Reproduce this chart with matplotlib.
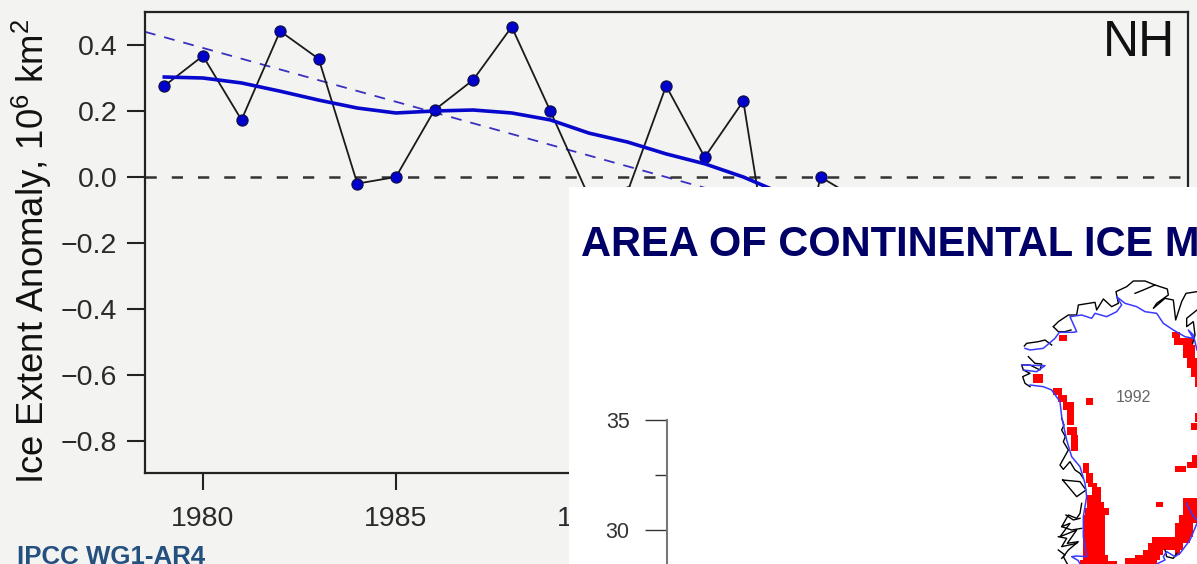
import matplotlib
matplotlib.use('Agg')
import matplotlib.pyplot as plt
from matplotlib.patches import Rectangle

plt.rcParams['font.family'] = ['Liberation Sans', 'DejaVu Sans']
plt.rcParams['mathtext.fontset'] = 'custom'
plt.rcParams['mathtext.rm'] = 'Liberation Sans'
plt.rcParams['mathtext.default'] = 'regular'

# Sea ice extent anomaly (1990, 1991, 1995 and 1997 sit mostly behind the overlaid slide)
years = [1979, 1980, 1981, 1982, 1983, 1984, 1985, 1986, 1987, 1988, 1989,
         1990, 1991, 1992, 1993, 1994, 1995, 1996, 1997]
anomaly = [0.276, 0.367, 0.173, 0.442, 0.358, -0.02, 0.0, 0.203, 0.294, 0.455, 0.20,
           -0.06, -0.045, 0.276, 0.06, 0.23, -0.5, 0.0, -0.07]
smooth = [0.303, 0.30, 0.285, 0.26, 0.233, 0.209, 0.194, 0.2, 0.203, 0.194, 0.173,
          0.133, 0.106, 0.07, 0.04, 0.0, -0.05]
trend_years = [1978.5, 1995]
trend = [0.44, -0.098]
y_ticks = [0.4, 0.2, 0.0, -0.2, -0.4, -0.6, -0.8]
y_labels = ['0.4', '0.2', '0.0', '\u22120.2', '\u22120.4', '\u22120.6', '\u22120.8']
x_ticks = [1980, 1985, 1990, 1995, 2000, 2005]

# Overlaid slide axis
area_ticks = [35, 30]
area_minor = [32.5]

# Greenland map (x, y in map units)
coast_lines = [
    [(220, 170), (235, 155), (265, 135), (290, 135), (295, 105), (345, 97), (350, 120), (370, 87),
     (395, 110), (415, 100), (408, 65), (440, 50), (460, 33), (495, 33), (525, 45), (562, 57),
     (565, 75), (530, 100), (520, 115), (555, 85), (580, 90), (587, 150), (605, 95), (618, 70), (651, 65)],
    [(220, 170), (235, 185), (255, 185), (273, 180)],
    [(465, 70), (490, 60), (525, 45)],
    [(651, 120), (620, 145), (620, 170), (640, 155), (645, 195), (638, 220)],
    [(133, 228), (140, 220), (175, 215), (195, 210), (215, 225)],
    [(145, 260), (165, 280), (185, 282), (180, 300), (150, 285), (125, 285), (130, 300),
     (150, 310), (128, 320), (135, 340), (150, 350)],
    [(245, 445), (252, 465), (245, 480), (256, 500), (250, 515), (265, 540), (240, 585), (250, 598),
     (270, 575), (285, 600), (300, 610), (310, 625)],
    [(248, 630), (300, 635), (318, 660), (290, 680), (265, 650), (248, 630)],
    [(305, 700), (300, 730), (290, 745), (265, 735), (245, 770), (270, 760), (240, 800),
     (290, 780), (262, 820), (295, 815), (265, 840), (250, 860), (262, 882)],
    [(258, 735), (280, 750), (300, 745)],
    [(245, 770), (275, 780), (305, 775)],
    [(235, 800), (260, 805), (245, 830), (290, 820)],
    [(235, 840), (255, 855), (245, 865)],
    [(555, 840), (560, 860), (580, 865), (590, 850)],
]
ice_lines = [
    [(135, 235), (150, 240), (190, 235), (225, 205), (238, 187), (280, 187), (290, 185), (270, 140),
     (305, 135), (335, 145), (345, 130), (380, 140), (410, 125), (425, 105), (410, 80), (435, 100),
     (470, 110), (495, 125), (530, 130), (550, 160), (580, 180), (615, 200), (640, 205), (625, 180),
     (640, 195), (651, 240)],
    [(125, 285), (195, 287), (170, 305), (130, 300)],
    [(150, 345), (190, 350), (215, 360), (240, 395), (245, 440), (260, 510), (275, 560), (300, 590),
     (315, 640), (320, 680), (310, 740), (310, 800), (320, 860), (290, 858), (275, 860), (295, 872), (300, 882)],
    [(651, 760), (630, 810), (600, 850), (585, 860), (560, 845), (550, 860), (555, 870), (530, 882)],
    [(620, 700), (640, 740), (651, 750)],
]
# Melt cells: top, bottom, left, right
melt_cells = [
    (194, 214, 237, 260), (312, 340, 160, 188), (385, 405, 319, 340), (695, 712, 528, 549),
    (355, 375, 218, 247), (375, 395, 235, 260), (397, 420, 250, 282), (420, 465, 260, 282),
    (470, 495, 262, 292), (495, 542, 272, 293), (578, 610, 309, 328), (610, 640, 318, 340),
    (640, 652, 325, 350), (652, 675, 335, 363), (675, 695, 322, 363), (695, 715, 322, 372),
    (715, 735, 315, 386), (735, 855, 310, 375), (855, 870, 310, 385), (870, 882, 300, 385),
    (872, 882, 378, 410),
    (185, 205, 575, 600), (205, 225, 583, 640), (225, 265, 610, 645), (265, 295, 622, 651),
    (295, 320, 632, 651), (320, 350, 645, 651), (430, 455, 645, 651), (460, 480, 633, 651),
    (555, 575, 635, 651), (575, 595, 622, 651), (588, 605, 586, 618), (683, 735, 610, 651),
    (735, 760, 598, 651), (760, 800, 585, 640), (800, 820, 517, 630), (820, 840, 505, 610),
    (840, 855, 490, 550), (840, 855, 585, 600), (855, 870, 465, 540), (865, 882, 435, 530),
]

W, H = 1197, 564
BG = '#f3f3f1'
fig = plt.figure(figsize=(W / 100, H / 100), dpi=100, facecolor=BG)


def px_axes(left, top, right, bottom, **kw):
    return fig.add_axes([left / W, 1 - bottom / H, (right - left) / W, (bottom - top) / H], **kw)


# Main ice extent chart
ax = px_axes(145, 12, 1188, 473, facecolor=BG)
ax.plot(trend_years, trend, color='#3a2fc0', lw=1.3, ls=(0, (6, 5)), zorder=2)
ax.axhline(0, color='#333333', lw=1.8, ls=(0, (4.5, 6)), zorder=2)
ax.plot(years, anomaly, color='#1a1a1a', lw=1.3, marker='o', ms=8, mfc='#0000cc',
        mec='#10104a', mew=0.9, zorder=3)
ax.plot(years[:len(smooth)], smooth, color='#0808cc', lw=2.6, zorder=4)
ax.set_xlim(1978.5, 2005.52)
ax.set_ylim(-0.897, 0.5)
ax.set_xticks(x_ticks)
ax.set_yticks(y_ticks)
ax.set_yticklabels(y_labels)
ax.tick_params(axis='y', length=13, width=1.5, pad=7, labelsize=20.5, color='#222222', labelcolor='#2a2a2a')
ax.tick_params(axis='x', length=12.5, width=1.5, pad=11, labelsize=20.5, color='#222222', labelcolor='#2a2a2a')
for s in ax.spines.values():
    s.set_linewidth(1.6)
    s.set_color('#222222')
fig.text(1175 / W, 1 - 56 / H, 'NH', ha='right', va='baseline', fontsize=36, color='#111111')
fig.text(32 / W, 1 - 252 / H, 'Ice Extent Anomaly, $10^6$ km$^2$', rotation=90, ha='center', va='center',
         fontsize=26.3, color='#111111')
fig.text(17 / W, 1 - 563.5 / H, 'IPCC WG1-AR4', ha='left', va='baseline', fontsize=18.6, fontweight='bold',
         color='#24507f')

# White slide pasted over the lower right
fig.add_artist(Rectangle((569 / W, 0), (W - 569) / W, 1 - 187 / H, transform=fig.transFigure,
                         facecolor='white', edgecolor='none', zorder=5))
fig.text(581 / W, 1 - 256 / H, 'AREA OF CONTINENTAL ICE M', ha='left', va='baseline', fontsize=30,
         fontweight='bold', color='#000066', zorder=6)

# Axis on the slide
ax2 = px_axes(667, 420, 720, 564, facecolor='none', zorder=6)
ax2.set_ylim(35 - 144 / 22, 35)
ax2.set_xticks([])
ax2.set_yticks(area_ticks)
ax2.set_yticks(area_minor, minor=True)
ax2.tick_params(axis='y', which='major', length=16, width=1, pad=11, labelsize=15.5, color='#333333', labelcolor='#333333')
ax2.tick_params(axis='y', which='minor', length=8.6, width=1, color='#333333')
for name, s in ax2.spines.items():
    s.set_visible(name == 'left')
ax2.spines['left'].set_color('#777777')
ax2.spines['left'].set_linewidth(1.5)

# Greenland melt map
m = px_axes(980, 270, 1197, 564, facecolor='none', zorder=7)
m.set_xlim(0, 651)
m.set_ylim(882, 0)
m.axis('off')
for top, bottom, left, right in melt_cells:
    m.add_patch(Rectangle((left, top), right - left, bottom - top, facecolor='#ff0000', edgecolor='none'))
for line in coast_lines:
    m.plot([p[0] for p in line], [p[1] for p in line], color='black', lw=1.0)
for line in ice_lines:
    m.plot([p[0] for p in line], [p[1] for p in line], color='#3a3aff', lw=1.1)
m.text(460, 382, '1992', ha='center', va='center', fontsize=11.5, color='#666666')

fig.savefig('out.png', dpi=100, facecolor=BG)
